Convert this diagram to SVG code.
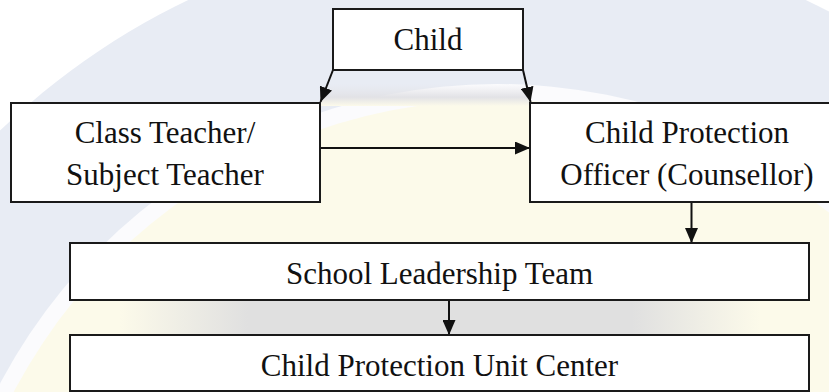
<svg xmlns="http://www.w3.org/2000/svg" width="829" height="392" viewBox="0 0 829 392">
  <style>
    .box { fill: #ffffff; stroke: #1a1a1a; stroke-width: 2; }
    .lbl { font-family: "Liberation Serif", "Times New Roman", serif; font-size: 31px; fill: #111111; text-anchor: middle; }
    .conn { stroke: #111111; stroke-width: 2; fill: none; marker-end: url(#arrow); }
  </style>
  <defs>
    <marker id="arrow" markerUnits="userSpaceOnUse" markerWidth="15" markerHeight="13" refX="15" refY="6.5" orient="auto">
      <path d="M0,0 L15,6.5 L0,13 z" fill="#111111"/>
    </marker>
    <linearGradient id="greyband" x1="0" y1="0" x2="1" y2="0">
      <stop offset="0" stop-color="#e0e0e0" stop-opacity="0"/>
      <stop offset="0.2" stop-color="#e0e0e0" stop-opacity="1"/>
      <stop offset="0.8" stop-color="#e0e0e0" stop-opacity="1"/>
      <stop offset="1" stop-color="#e0e0e0" stop-opacity="0"/>
    </linearGradient>
    <linearGradient id="greytop" x1="0" y1="0" x2="0" y2="1">
      <stop offset="0" stop-color="#e6e6ea" stop-opacity="0"/>
      <stop offset="0.6" stop-color="#e2e2e6" stop-opacity="1"/>
      <stop offset="1" stop-color="#fcfaea" stop-opacity="1"/>
    </linearGradient>
  </defs>
  <rect width="829" height="392" fill="#ffffff"/>
  <g id="watermark">
    <circle cx="497" cy="646" r="716" fill="#e8ecf4"/>
    <circle cx="497" cy="646" r="562" fill="#fbfbfd"/>
    <circle cx="497" cy="646" r="546" fill="#fcfaea"/>
    <rect x="320" y="84" width="210" height="22" fill="url(#greytop)"/>
    <rect x="120" y="300" width="640" height="35" fill="url(#greyband)"/>
  </g>
  <g id="connectors">
    <line class="conn" x1="333" y1="70" x2="320.5" y2="102"/>
    <line class="conn" x1="523" y1="70" x2="530.5" y2="102"/>
    <line class="conn" x1="320" y1="148" x2="530" y2="148"/>
    <line class="conn" x1="691.5" y1="202" x2="691.5" y2="243"/>
    <line class="conn" x1="449" y1="300" x2="449" y2="335"/>
  </g>
  <g id="child">
    <rect class="box" x="333" y="9" width="190" height="61"/>
    <text class="lbl" x="428" y="50">Child</text>
  </g>
  <g id="class-teacher">
    <rect class="box" x="11" y="103" width="309" height="99"/>
    <text class="lbl" x="165" y="143">Class Teacher/</text>
    <text class="lbl" x="165" y="185">Subject Teacher</text>
  </g>
  <g id="cpo">
    <rect class="box" x="530" y="103" width="316" height="99"/>
    <text class="lbl" x="687" y="143">Child Protection</text>
    <text class="lbl" x="687" y="185">Officer (Counsellor)</text>
  </g>
  <g id="slt">
    <rect class="box" x="70" y="243" width="739" height="57"/>
    <text class="lbl" x="439.5" y="284">School Leadership Team</text>
  </g>
  <g id="cpu">
    <rect class="box" x="70" y="335" width="739" height="56"/>
    <text class="lbl" x="439.5" y="376">Child Protection Unit Center</text>
  </g>
</svg>
